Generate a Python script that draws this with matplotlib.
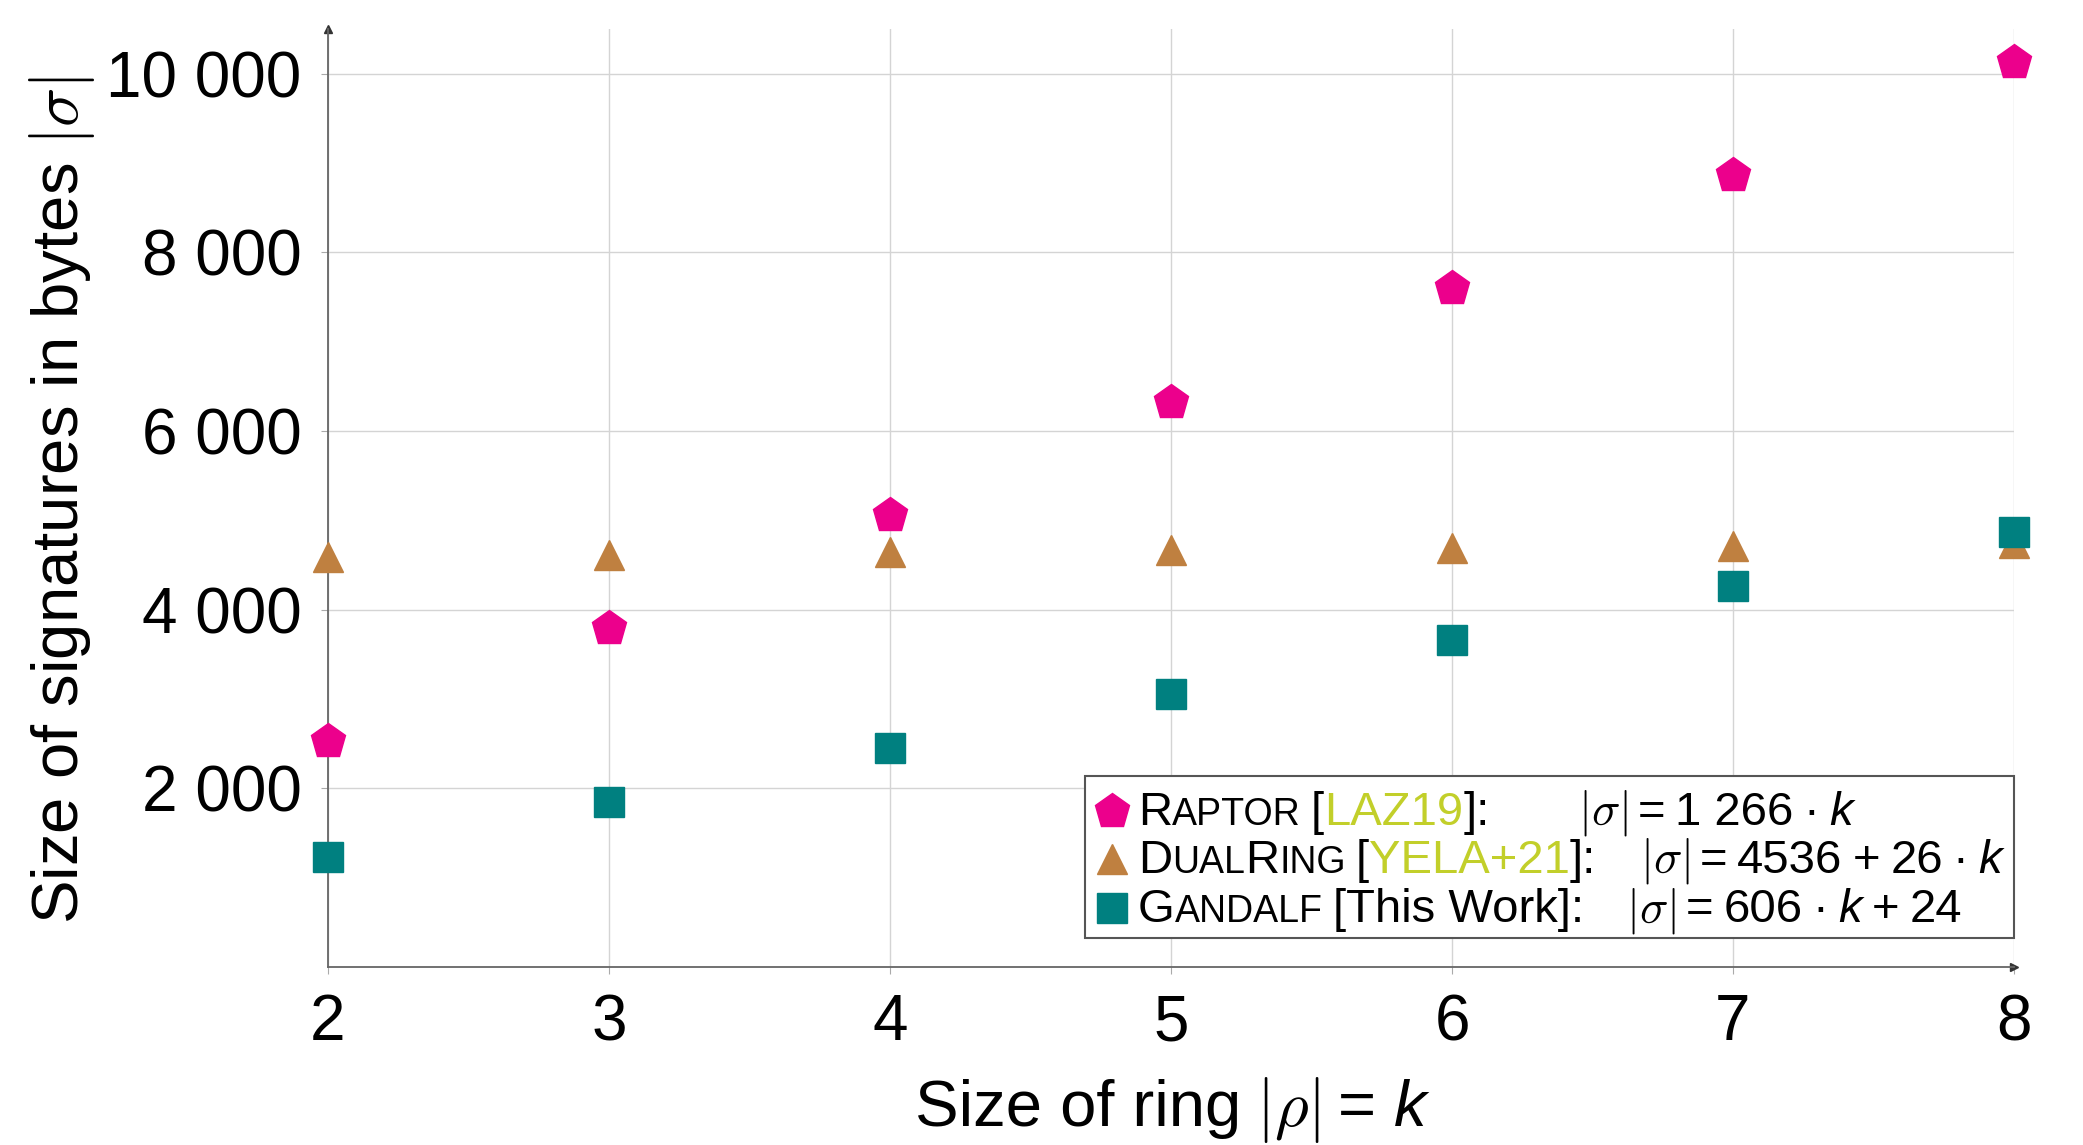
import matplotlib.pyplot as plt
from matplotlib.lines import Line2D
from matplotlib.patches import Rectangle
from matplotlib.transforms import IdentityTransform

plt.rcParams['font.family'] = ['Liberation Sans', 'DejaVu Sans']
plt.rcParams['mathtext.fontset'] = 'cm'

# data: |sigma| in bytes for ring size k
ring_size = [2, 3, 4, 5, 6, 7, 8]
raptor = [2532, 3798, 5064, 6330, 7596, 8862, 10128]
dualring = [4588, 4614, 4640, 4666, 4692, 4718, 4744]
gandalf = [1236, 1842, 2448, 3054, 3660, 4266, 4872]

y_ticks = [2000, 4000, 6000, 8000, 10000]
y_tick_labels = ['2 000', '4 000', '6 000', '8 000', '10 000']

magenta = '#EC008C'
brown = '#BF8040'
teal = '#008080'
cite = '#C2CF2A'

W, H = 2083, 1145
fig = plt.figure(figsize=(W / 100, H / 100), dpi=100)
ax = fig.add_axes([328 / W, 1 - 967 / H, (2014 - 328) / W, (967 - 29) / H])

ax.plot(ring_size, raptor, linestyle='None', marker='p', ms=26, color=magenta, clip_on=False, zorder=3)
ax.plot(ring_size, dualring, linestyle='None', marker='^', ms=21, color=brown, clip_on=False, zorder=3)
ax.plot(ring_size, gandalf, linestyle='None', marker='s', ms=21, color=teal, clip_on=False, zorder=3)

ax.set_xlim(2, 8)
ax.set_ylim(0, 10500)
ax.set_xticks(ring_size)
ax.set_yticks(y_ticks)
ax.set_yticklabels(y_tick_labels)
ax.grid(color='#d4d4d4', lw=1)
ax.set_axisbelow(True)
ax.tick_params(labelsize=46, length=5, color='#aaaaaa', pad=14)
for s in ['top', 'right']:
    ax.spines[s].set_visible(False)
for s in ['left', 'bottom']:
    ax.spines[s].set_color('#666666')
    ax.spines[s].set_linewidth(1.3)
ax.plot(1, 0, '>', color='#333333', ms=6, transform=ax.transAxes, clip_on=False)
ax.plot(0, 1, '^', color='#333333', ms=6, transform=ax.transAxes, clip_on=False)

pix = IdentityTransform()
renderer = fig.canvas.get_renderer()


def chain(pieces, x, y, center=False):
    # pieces: (text, kwargs) or a number = gap in pixels; y is baseline from top
    placed = []
    cur = 0
    for p in pieces:
        if isinstance(p, (int, float)):
            cur += p
            continue
        s, kw = p
        t = fig.text(0, H - y, s, transform=pix, va='baseline', ha='left', **kw)
        w = t.get_window_extent(renderer).width
        placed.append((t, cur))
        cur += w
    off = x - cur / 2 if center else x
    for t, dx in placed:
        t.set_x(off + dx)


# axis labels
fig.text(62 / W, 1 - 500 / H, r'Size of signatures in bytes $|\sigma|$', rotation=90,
         ha='center', va='center', fontsize=47)
big = dict(fontsize=47)
chain([('Size of ring', big), 14, (r'$|\rho|$', big), 18, ('=', big), 18,
       ('k', dict(fontsize=47, style='italic'))], 1171, 1126, center=True)

# legend box
fig.add_artist(Rectangle((1085, H - 938), 2014 - 1085, 938 - 776, transform=pix,
                         facecolor='white', edgecolor='#555555', lw=1.5, zorder=2))

L = dict(fontsize=34)
S = dict(fontsize=27)
C = dict(fontsize=34, color=cite)
I = dict(fontsize=34, style='italic')
sp = 10
g = 10

rows = [
    (magenta, 'p', 26, 825,
     [('R', L), ('APTOR', S), sp, ('[', L), ('LAZ19', C), (']:', L)],
     1578, [(r'$|\sigma|$', L), g, ('=', L), g, ('1 266', L), g, ('·', L), g, ('k', I)]),
    (brown, '^', 21, 873,
     [('D', L), ('UAL', S), ('R', L), ('ING', S), sp, ('[', L), ('YELA+21', C), (']:', L)],
     1640, [(r'$|\sigma|$', L), g, ('=', L), g, ('4536', L), g, ('+', L), g, ('26', L), g,
            ('·', L), g, ('k', I)]),
    (teal, 's', 21, 922,
     [('G', L), ('ANDALF', S), sp, ('[This Work]:', L)],
     1626, [(r'$|\sigma|$', L), g, ('=', L), g, ('606', L), g, ('·', L), g, ('k', I), g,
            ('+', L), g, ('24', L)]),
]
for color, mk, ms, base, name, fx, formula in rows:
    fig.add_artist(Line2D([1112], [H - base + 14], transform=pix, marker=mk, ms=ms,
                          color=color, linestyle='None', zorder=3))
    chain(name, 1138, base)
    chain(formula, fx, base)

fig.savefig('out.png', dpi=100)
